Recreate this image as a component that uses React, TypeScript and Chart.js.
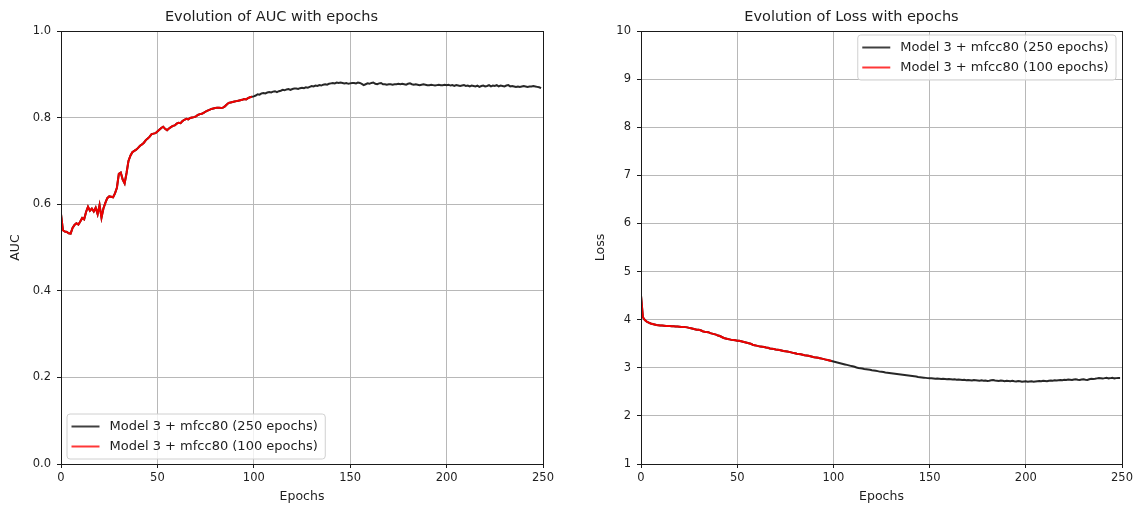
import React, { useEffect, useRef } from "react";
import { Chart, registerables } from "chart.js";

Chart.register(...registerables);

const FONT = "DejaVu Sans";
const TEXT = "#1e1e1e";

const seriesLabels = ["Model 3 + mfcc80 (250 epochs)", "Model 3 + mfcc80 (100 epochs)"];
const seriesColors = ["rgba(15,15,15,0.9)", "#ee0000"];
const xTicks = [0, 50, 100, 150, 200, 250];

// AUC, model trained for 250 epochs (one value per epoch, 0..249)
const auc250 = [
  0.577, 0.540, 0.537, 0.536, 0.533, 0.532, 0.545, 0.552, 0.556, 0.553,
  0.560, 0.568, 0.565, 0.582, 0.594, 0.585, 0.590, 0.583, 0.592, 0.577,
  0.598, 0.569, 0.590, 0.603, 0.614, 0.618, 0.617, 0.616, 0.625, 0.638,
  0.670, 0.673, 0.657, 0.648, 0.672, 0.700, 0.712, 0.720, 0.723, 0.726,
  0.730, 0.735, 0.738, 0.742, 0.748, 0.752, 0.756, 0.762, 0.763, 0.764,
  0.768, 0.772, 0.776, 0.779, 0.774, 0.771, 0.775, 0.778, 0.781, 0.782,
  0.786, 0.788, 0.787, 0.792, 0.795, 0.797, 0.796, 0.799, 0.800, 0.801,
  0.803, 0.806, 0.808, 0.809, 0.811, 0.814, 0.816, 0.818, 0.820, 0.821,
  0.822, 0.823, 0.823, 0.822, 0.823, 0.826, 0.830, 0.834, 0.835, 0.836,
  0.837, 0.838, 0.839, 0.840, 0.841, 0.843, 0.842, 0.845, 0.847, 0.848,
  0.849, 0.851, 0.854, 0.853, 0.856, 0.857, 0.856, 0.858, 0.859, 0.858,
  0.860, 0.861, 0.859, 0.861, 0.862, 0.864, 0.863, 0.865, 0.866, 0.864,
  0.866, 0.867, 0.867, 0.866, 0.868, 0.869, 0.868, 0.870, 0.869, 0.871,
  0.873, 0.872, 0.874, 0.873, 0.875, 0.874, 0.876, 0.877, 0.876, 0.878,
  0.879, 0.880, 0.879, 0.881, 0.880, 0.881, 0.880, 0.879, 0.880, 0.878,
  0.879, 0.880, 0.880, 0.879, 0.881, 0.880, 0.878, 0.875, 0.877, 0.879,
  0.878, 0.880, 0.881, 0.878, 0.877, 0.879, 0.880, 0.877, 0.877, 0.876,
  0.877, 0.877, 0.876, 0.877, 0.877, 0.878, 0.877, 0.878, 0.877, 0.876,
  0.878, 0.879, 0.877, 0.876, 0.877, 0.876, 0.875, 0.876, 0.877, 0.876,
  0.875, 0.875, 0.876, 0.875, 0.874, 0.875, 0.876, 0.875, 0.875, 0.876,
  0.875, 0.876, 0.874, 0.875, 0.873, 0.875, 0.874, 0.873, 0.874, 0.875,
  0.873, 0.874, 0.872, 0.874, 0.873, 0.872, 0.874, 0.871, 0.873, 0.874,
  0.872, 0.873, 0.875, 0.872, 0.874, 0.873, 0.875, 0.872, 0.874, 0.873,
  0.872, 0.874, 0.875, 0.872, 0.873, 0.872, 0.871, 0.872, 0.871, 0.872,
  0.873, 0.872, 0.871, 0.872, 0.872, 0.873, 0.872, 0.871, 0.870, 0.868,
];

// AUC, model trained for 100 epochs (overlaps the first 100 epochs)
const auc100 = auc250.slice(0, 100);

// Loss, model trained for 250 epochs
const loss250 = [
  4.50, 4.05, 3.99, 3.96, 3.94, 3.92, 3.91, 3.90, 3.89, 3.885,
  3.88, 3.88, 3.875, 3.87, 3.87, 3.87, 3.865, 3.865, 3.86, 3.86,
  3.855, 3.85, 3.85, 3.845, 3.84, 3.83, 3.82, 3.81, 3.80, 3.79,
  3.79, 3.78, 3.76, 3.75, 3.745, 3.74, 3.72, 3.71, 3.70, 3.69,
  3.67, 3.66, 3.64, 3.62, 3.61, 3.60, 3.59, 3.58, 3.575, 3.57,
  3.56, 3.56, 3.55, 3.54, 3.53, 3.52, 3.51, 3.50, 3.48, 3.47,
  3.46, 3.45, 3.44, 3.435, 3.43, 3.42, 3.415, 3.40, 3.395, 3.39,
  3.38, 3.375, 3.37, 3.36, 3.35, 3.345, 3.34, 3.33, 3.32, 3.31,
  3.30, 3.29, 3.285, 3.28, 3.27, 3.26, 3.255, 3.25, 3.24, 3.23,
  3.22, 3.215, 3.21, 3.20, 3.19, 3.18, 3.17, 3.16, 3.15, 3.14,
  3.13, 3.12, 3.11, 3.10, 3.09, 3.08, 3.07, 3.06, 3.05, 3.04,
  3.03, 3.02, 3.005, 2.995, 2.99, 2.985, 2.975, 2.97, 2.965, 2.96,
  2.95, 2.945, 2.94, 2.93, 2.92, 2.915, 2.91, 2.90, 2.895, 2.89,
  2.885, 2.88, 2.875, 2.87, 2.865, 2.86, 2.855, 2.85, 2.845, 2.84,
  2.835, 2.83, 2.825, 2.82, 2.81, 2.805, 2.80, 2.795, 2.79, 2.785,
  2.78, 2.78, 2.775, 2.77, 2.775, 2.77, 2.765, 2.77, 2.765, 2.76,
  2.765, 2.76, 2.755, 2.76, 2.75, 2.755, 2.75, 2.745, 2.75, 2.74,
  2.745, 2.74, 2.735, 2.745, 2.74, 2.735, 2.73, 2.74, 2.73, 2.735,
  2.725, 2.73, 2.74, 2.745, 2.735, 2.73, 2.725, 2.735, 2.73, 2.72,
  2.73, 2.725, 2.72, 2.73, 2.72, 2.715, 2.725, 2.72, 2.71, 2.715,
  2.72, 2.71, 2.715, 2.72, 2.71, 2.715, 2.72, 2.725, 2.72, 2.73,
  2.725, 2.72, 2.73, 2.735, 2.73, 2.74, 2.735, 2.74, 2.745, 2.74,
  2.75, 2.745, 2.755, 2.75, 2.745, 2.755, 2.76, 2.75, 2.745, 2.755,
  2.76, 2.75, 2.745, 2.76, 2.77, 2.765, 2.77, 2.78, 2.785, 2.78,
  2.775, 2.785, 2.79, 2.78, 2.785, 2.79, 2.78, 2.785, 2.79, 2.79,
];

// Loss, model trained for 100 epochs
const loss100 = loss250.slice(0, 100);

const aucTicks = [0, 0.2, 0.4, 0.6, 0.8, 1.0];
const lossTicks = [1, 2, 3, 4, 5, 6, 7, 8, 9, 10];

type Spec = {
  title: string;
  yTitle: string;
  black: number[];
  red: number[];
  yMin: number;
  yMax: number;
  yTicks: number[];
  yDecimals: number;
  yWidth: number;
  yTitlePad: number;
  padRight: number;
  legendCorner: "bottom-left" | "top-right";
};

const alignPx = (p: number) => Math.round(p - 0.5) + 0.5;

function makeFramePlugin() {
  return {
    id: "frame",
    afterDatasetsDraw(chart: any) {
      const { ctx, chartArea: a } = chart;
      ctx.save();
      ctx.strokeStyle = "#1a1a1a";
      ctx.lineWidth = 1;
      const l = alignPx(a.left), r = alignPx(a.right), t = alignPx(a.top), b = alignPx(a.bottom);
      ctx.strokeRect(l, t, r - l, b - t);
      ctx.restore();
    },
  };
}

function makeLegendPlugin(corner: "bottom-left" | "top-right") {
  return {
    id: "boxLegend",
    afterDraw(chart: any) {
      const { ctx, chartArea: a } = chart;
      ctx.save();
      ctx.font = `13px "${FONT}"`;
      const textW = Math.max(...seriesLabels.map((s) => ctx.measureText(s).width));
      const w = 4.5 + 28 + 10 + textW + 7.5;
      const h = 45;
      const x = corner === "bottom-left" ? a.left + 6 : a.right - 6 - w;
      const y = corner === "bottom-left" ? a.bottom - 5 - h : a.top + 4;
      const rr = 3;
      ctx.beginPath();
      ctx.moveTo(x + rr, y);
      ctx.lineTo(x + w - rr, y);
      ctx.quadraticCurveTo(x + w, y, x + w, y + rr);
      ctx.lineTo(x + w, y + h - rr);
      ctx.quadraticCurveTo(x + w, y + h, x + w - rr, y + h);
      ctx.lineTo(x + rr, y + h);
      ctx.quadraticCurveTo(x, y + h, x, y + h - rr);
      ctx.lineTo(x, y + rr);
      ctx.quadraticCurveTo(x, y, x + rr, y);
      ctx.closePath();
      ctx.fillStyle = "rgba(255,255,255,0.8)";
      ctx.fill();
      ctx.strokeStyle = "#d0d0d0";
      ctx.lineWidth = 1;
      ctx.stroke();
      seriesLabels.forEach((label, i) => {
        const cy = y + 12.5 + i * 20;
        ctx.strokeStyle = i === 0 ? "rgba(30,30,30,0.85)" : "rgba(255,20,20,0.85)";
        ctx.lineWidth = 2;
        ctx.beginPath();
        ctx.moveTo(x + 4.5, cy);
        ctx.lineTo(x + 32.5, cy);
        ctx.stroke();
        ctx.fillStyle = TEXT;
        ctx.textBaseline = "middle";
        ctx.textAlign = "left";
        ctx.fillText(label, x + 42.5, cy);
      });
      ctx.restore();
    },
  };
}

function EpochChart({ spec, width }: { spec: Spec; width: number }) {
  const ref = useRef<HTMLCanvasElement | null>(null);
  useEffect(() => {
    if (!ref.current) return;
    const toPts = (arr: number[]) => arr.map((v, i) => ({ x: i, y: v }));
    const chart = new Chart(ref.current, {
      type: "line",
      data: {
        datasets: [
          {
            label: seriesLabels[0],
            data: toPts(spec.black),
            borderColor: seriesColors[0],
            borderWidth: 2,
            pointRadius: 0,
            tension: 0,
            order: 2,
          },
          {
            label: seriesLabels[1],
            data: toPts(spec.red),
            borderColor: seriesColors[1],
            borderWidth: 2,
            pointRadius: 0,
            tension: 0,
            order: 1,
          },
        ],
      },
      options: {
        responsive: false,
        animation: false,
        devicePixelRatio: 1,
        layout: { padding: { left: 0, right: spec.padRight, top: 0, bottom: 0 } },
        plugins: {
          legend: { display: false },
          tooltip: { enabled: false },
          title: {
            display: true,
            text: spec.title,
            color: TEXT,
            font: { family: FONT, size: 14.5, weight: "normal" },
            padding: { top: 8.5, bottom: 5.1 },
          },
        },
        scales: {
          x: {
            type: "linear",
            min: 0,
            max: 250,
            afterBuildTicks: (s: any) => {
              s.ticks = xTicks.map((v) => ({ value: v }));
            },
            ticks: {
              color: TEXT,
              font: { family: FONT, size: 11.5 },
              padding: 3,
              maxRotation: 0,
              callback: (v: any) => String(v),
            },
            grid: { color: "#b8b8b8", lineWidth: 1, tickLength: 4, tickColor: "#1a1a1a", drawTicks: true },
            border: { display: false },
            title: {
              display: true,
              text: "Epochs",
              color: TEXT,
              font: { family: FONT, size: 12.5 },
              padding: { top: 0, bottom: 5 },
            },
            afterFit: (s: any) => {
              s.height = 45;
            },
          },
          y: {
            type: "linear",
            min: spec.yMin,
            max: spec.yMax,
            afterBuildTicks: (s: any) => {
              s.ticks = spec.yTicks.map((v) => ({ value: v }));
            },
            ticks: {
              color: TEXT,
              font: { family: FONT, size: 11.5 },
              padding: 6,
              callback: (v: any) => Number(v).toFixed(spec.yDecimals),
            },
            grid: { color: "#b8b8b8", lineWidth: 1, tickLength: 4, tickColor: "#1a1a1a", drawTicks: true },
            border: { display: false },
            title: {
              display: true,
              text: spec.yTitle,
              color: TEXT,
              font: { family: FONT, size: 12.5 },
              padding: { top: spec.yTitlePad, bottom: 0 },
            },
            afterFit: (s: any) => {
              s.width = spec.yWidth;
            },
          },
        },
      },
      plugins: [makeFramePlugin(), makeLegendPlugin(spec.legendCorner)],
    } as any);
    return () => chart.destroy();
  }, [spec]);
  return <canvas ref={ref} width={width} height={509} style={{ display: "block", width, height: 509 }} />;
}

const aucSpec: Spec = {
  title: "Evolution of AUC with epochs",
  yTitle: "AUC",
  black: auc250,
  red: auc100,
  yMin: 0,
  yMax: 1,
  yTicks: aucTicks,
  yDecimals: 1,
  yWidth: 61,
  yTitlePad: 8.5,
  padRight: 17,
  legendCorner: "bottom-left",
};

const lossSpec: Spec = {
  title: "Evolution of Loss with epochs",
  yTitle: "Loss",
  black: loss250,
  red: loss100,
  yMin: 1,
  yMax: 10,
  yTicks: lossTicks,
  yDecimals: 0,
  yWidth: 61,
  yTitlePad: 13.5,
  padRight: 13,
  legendCorner: "top-right",
};

export default function App() {
  return (
    <div style={{ position: "fixed", left: 0, top: 0, width: 1136, height: 509, background: "#fff" }}>
      <div style={{ position: "absolute", left: 0, top: 0 }}>
        <EpochChart spec={aucSpec} width={560} />
      </div>
      <div style={{ position: "absolute", left: 580, top: 0 }}>
        <EpochChart spec={lossSpec} width={556} />
      </div>
    </div>
  );
}
